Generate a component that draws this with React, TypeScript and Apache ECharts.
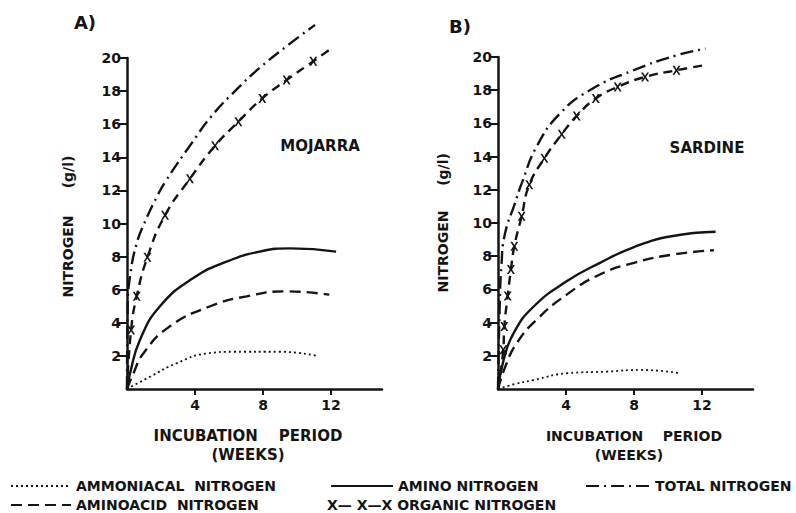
import React, { useEffect, useRef } from "react";
import * as echarts from "echarts";

// ---- data (weeks, g/l) ----
const ammoniacalA: [number, number][] = [[0, 0], [1.35, 0.74], [2.9, 1.55], [4.7, 2.15], [6.25, 2.25], [9.0, 2.25], [11.2, 2.0]];
const aminoA: [number, number][] = [[0, 0], [0.18, 0.95], [0.76, 2.96], [1.94, 5.0], [3.9, 6.7], [5.86, 7.7], [7.8, 8.3], [9.6, 8.5], [12.3, 8.3]];
const aminoacidA: [number, number][] = [[0, 0], [0.4, 1.0], [0.96, 2.15], [2.5, 3.77], [4.9, 5.0], [7.04, 5.6], [9.4, 5.9], [11.9, 5.7]];
const totalA: [number, number][] = [[0, 0], [0.04, 5.0], [0.18, 6.8], [0.57, 8.8], [1.1, 10.2], [1.75, 11.6], [2.3, 12.6], [3.84, 14.9], [4.98, 16.5], [6.45, 18.1], [7.8, 19.4], [9.5, 20.8], [11.06, 22.0]];
const organicA: [number, number][] = [[0, 0], [0.24, 3.56], [0.57, 5.6], [1.2, 7.96], [2.24, 10.5], [3.7, 12.7], [5.18, 14.7], [6.55, 16.15], [7.96, 17.56], [9.39, 18.67], [10.96, 19.8], [12.04, 20.6]];

const ammoniacalB: [number, number][] = [[0, 0], [1.0, 0.3], [2.1, 0.54], [4.06, 0.95], [6.4, 1.05], [8.4, 1.15], [10.7, 0.95]];
const aminoB: [number, number][] = [[0, 0], [0.33, 1.75], [0.92, 3.37], [2.1, 4.97], [4.06, 6.5], [6.0, 7.6], [8.0, 8.55], [10.2, 9.2], [12.8, 9.47]];
const aminoacidB: [number, number][] = [[0, 0], [0.43, 1.35], [1.1, 2.76], [2.3, 4.2], [4.06, 5.7], [6.0, 6.9], [8.0, 7.6], [10.3, 8.1], [12.7, 8.36]];
const totalB: [number, number][] = [[0, 0], [0.1, 5.0], [0.2, 7.4], [0.4, 9.3], [1.0, 11.2], [1.4, 12.4], [2.27, 14.6], [3.65, 16.6], [5.4, 18.0], [7.96, 19.2], [10.5, 20.1], [12.2, 20.5]];
const organicB: [number, number][] = [[0, 0], [0.31, 2.36], [0.37, 3.76], [0.57, 5.6], [0.76, 7.2], [0.96, 8.6], [1.39, 10.4], [1.84, 12.3], [2.73, 13.9], [3.75, 15.35], [4.63, 16.45], [5.75, 17.5], [7.04, 18.2], [8.65, 18.8], [10.5, 19.2], [12.1, 19.5]];

const xTicks = [4, 8, 12];
const yTicks = [2, 4, 6, 8, 10, 12, 14, 16, 18, 20];
const panelLabels = ["A)", "B)"];
const fishNames = ["MOJARRA", "SARDINE"];

const NAMES = {
  ammoniacal: "AMMONIACAL  NITROGEN",
  amino: "AMINO NITROGEN",
  total: "TOTAL NITROGEN",
  aminoacid: "AMINOACID  NITROGEN",
  organic: "ORGANIC NITROGEN",
};

const INK = "#141414";
const FONT = "'DejaVu Sans', 'Liberation Sans', Arial, sans-serif";
const X_PATH = "path://M0,0 L2.4,0 L5,3.6 L7.6,0 L10,0 L6.3,5 L10,10 L7.6,10 L5,6.4 L2.4,10 L0,10 L3.7,5 Z";

export default function App() {
  const ref = useRef<HTMLDivElement>(null);

  useEffect(() => {
    if (!ref.current) return;
    const chart = echarts.init(ref.current, undefined, { renderer: "svg" });

    const axisX = (gi: number) => ({
      type: "value" as const,
      gridIndex: gi,
      min: 0,
      max: 15,
      splitLine: { show: false },
      axisLine: { lineStyle: { color: INK, width: 2.5 } },
      axisTick: { customValues: xTicks, length: 6, lineStyle: { color: INK, width: 2 } },
      axisLabel: {
        customValues: xTicks,
        color: INK,
        fontSize: 14,
        fontWeight: "bold" as const,
        fontFamily: FONT,
        margin: 9,
      },
    });
    const axisY = (gi: number) => ({
      type: "value" as const,
      gridIndex: gi,
      min: 0,
      max: 20,
      interval: 2,
      splitLine: { show: false },
      axisLine: { lineStyle: { color: INK, width: 2.5 } },
      axisTick: { customValues: yTicks, length: 9, lineStyle: { color: INK, width: 2 } },
      axisLabel: {
        customValues: yTicks,
        color: INK,
        fontSize: 14,
        fontWeight: "bold" as const,
        fontFamily: FONT,
        margin: 6,
      },
    });

    const lineSeries = (
      name: string,
      data: [number, number][],
      gi: number,
      dash: number[] | "solid",
      width = 2.4
    ) => ({
      type: "line" as const,
      name,
      xAxisIndex: gi,
      yAxisIndex: gi,
      data,
      smooth: 0.5,
      symbol: "none",
      clip: false,
      lineStyle: { color: INK, width, type: dash as any },
      itemStyle: { color: INK },
    });

    const organicSeries = (data: [number, number][], gi: number) => ({
      type: "line" as const,
      name: NAMES.organic,
      xAxisIndex: gi,
      yAxisIndex: gi,
      data: data.map((p, i) =>
        i === 0 || i === data.length - 1 ? { value: p, symbol: "none" } : { value: p }
      ),
      smooth: 0.5,
      symbol: X_PATH,
      symbolSize: [8, 9],
      showAllSymbol: true,
      clip: false,
      lineStyle: { color: INK, width: 2.4, type: [9, 6] as any },
      itemStyle: { color: INK },
    });

    const series: any[] = [];
    [
      [ammoniacalA, aminoA, aminoacidA, totalA, organicA],
      [ammoniacalB, aminoB, aminoacidB, totalB, organicB],
    ].forEach(([amm, ami, aac, tot, org], gi) => {
      series.push(lineSeries(NAMES.ammoniacal, amm, gi, [2, 3], 1.8));
      series.push(lineSeries(NAMES.amino, ami, gi, "solid"));
      series.push(lineSeries(NAMES.aminoacid, aac, gi, [11, 6]));
      series.push(lineSeries(NAMES.total, tot, gi, [13, 5, 2, 5]));
      series.push(organicSeries(org, gi));
    });

    const legendBase = {
      orient: "horizontal" as const,
      padding: 0,
      itemHeight: 12,
      textStyle: {
        color: INK,
        fontSize: 14,
        lineHeight: 14,
        fontWeight: "bold" as const,
        fontFamily: FONT,
      },
      itemStyle: { opacity: 0 },
      selectedMode: false,
    };

    const bold = (size: number) => ({
      fill: INK,
      fontSize: size,
      fontWeight: "bold",
      fontFamily: FONT,
    });
    const centered = (x: number, y: number, text: string, size: number, rotate = false) => ({
      type: "text",
      x,
      y,
      rotation: rotate ? Math.PI / 2 : 0,
      style: { text, align: "center", verticalAlign: "middle", ...bold(size) },
    });

    chart.setOption({
      animation: false,
      backgroundColor: "#ffffff",
      grid: [
        { left: 127, top: 58, width: 255, height: 331 },
        { left: 498, top: 57, width: 255, height: 332 },
      ],
      xAxis: [axisX(0), axisX(1)],
      yAxis: [axisY(0), axisY(1)],
      series,
      legend: [
        { ...legendBase, data: [NAMES.ammoniacal], itemWidth: 60, left: 10, top: 479 },
        { ...legendBase, data: [NAMES.amino], itemWidth: 62, left: 330, top: 479 },
        { ...legendBase, data: [NAMES.total], itemWidth: 64, left: 585, top: 479 },
        { ...legendBase, data: [NAMES.aminoacid], itemWidth: 60, left: 10, top: 498 },
        {
          ...legendBase,
          data: [NAMES.organic],
          icon: "none",
          itemWidth: 0,
          left: 322,
          top: 498,
          formatter: () => "X\u2014 X\u2014X " + NAMES.organic,
        },
      ],
      graphic: [
        centered(85, 22.5, panelLabels[0], 18),
        centered(460, 26.5, panelLabels[1], 18),
        centered(320, 146, fishNames[0], 15),
        centered(707, 148, fishNames[1], 15),
        centered(68, 172, "(g/l)", 14, true),
        centered(68, 256.5, "NITROGEN", 14, true),
        centered(442.5, 169.5, "(g/l)", 14, true),
        centered(442.5, 251.5, "NITROGEN", 14, true),
        centered(248, 436, "INCUBATION    PERIOD", 15),
        centered(248, 455, "(WEEKS)", 15),
        centered(634, 436, "INCUBATION    PERIOD", 14),
        centered(629, 455, "(WEEKS)", 14),
      ],
    });

    return () => chart.dispose();
  }, []);

  return <div ref={ref} style={{ width: 796, height: 513, position: "absolute", left: 0, top: 0 }} />;
}
